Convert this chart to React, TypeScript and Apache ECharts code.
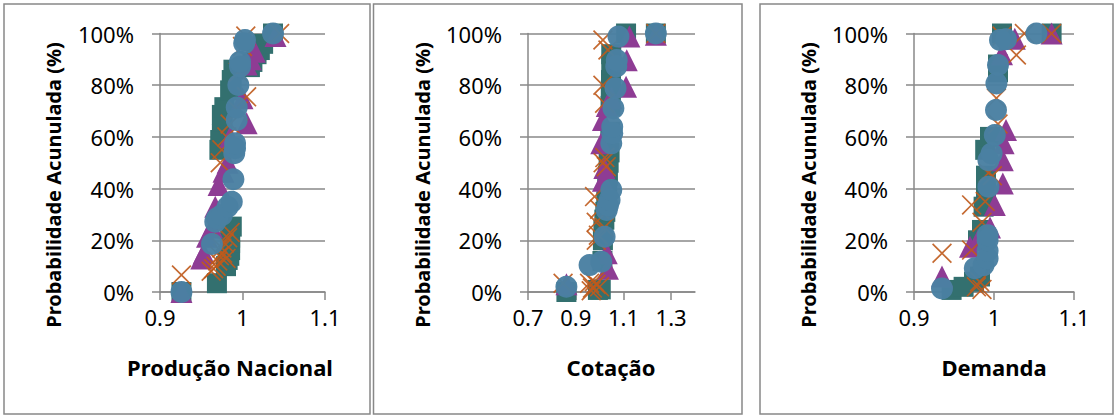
import React, { useEffect, useRef } from "react";
import * as echarts from "echarts";

// ---- Data (x = ratio, y = cumulative probability %) ----
const prodSquares: number[][] = [[0.926,0],[0.969,3.4],[0.980,10],[0.982,12.4],[0.984,14],[0.985,16.2],[0.985,19],[0.985,21],[0.987,25.3],[0.972,55],[0.973,58.8],[0.975,61],[0.975,68.5],[0.976,66],[0.978,71.5],[0.985,78],[0.987,82],[0.989,86],[1.009,87],[1.012,89],[1.017,92],[1.021,93.6],[1.025,96],[1.037,100]];
const prodTriangles: number[][] = [[0.926,0],[0.950,13],[0.953,15],[0.957,21.4],[0.963,25],[0.967,33],[0.971,41.4],[0.977,46.5],[0.982,50],[0.985,60],[1.005,65.3],[1.000,75],[1.005,88],[1.010,90],[1.015,92.9],[1.040,99]];
const prodCrosses: number[][] = [[0.926,6.6],[0.926,-0.5],[0.962,8],[0.965,9],[0.968,10],[0.970,12],[0.972,14],[0.975,17],[0.976,15],[0.978,19],[0.980,13],[0.982,21],[0.985,23],[0.973,50],[0.975,55],[0.981,60],[0.985,65],[0.995,70],[1.005,75.5],[0.995,85],[1.000,95],[1.004,99],[1.045,100]];
const prodCircles: number[][] = [[0.926,0],[0.963,18.6],[0.967,27.2],[0.969,28.5],[0.975,29.8],[0.982,33],[0.987,34.9],[0.989,43.6],[0.990,53.7],[0.991,55.6],[0.991,57.5],[0.993,66.5],[0.993,71.4],[0.995,80.1],[0.997,87.2],[0.997,89.1],[1.002,96.2],[1.003,97.5],[1.037,100]];

const cotSquares: number[][] = [[0.861,0],[0.993,0.8],[1.005,1],[1.012,12],[1.014,20],[1.016,24],[1.020,28],[1.024,31],[1.028,35],[1.032,40],[1.035,45],[1.038,50],[1.042,54],[1.045,62],[1.046,72],[1.047,78],[1.048,82],[1.049,88],[1.049,92],[1.111,100],[1.236,100]];
const cotTriangles: number[][] = [[0.861,3],[1.035,9],[1.030,15],[1.014,43],[1.020,48],[1.007,57.5],[1.014,66.5],[1.030,72],[1.050,75],[1.111,79.4],[1.114,89.7],[1.125,98.8],[1.236,99.5]];
const cotCrosses: number[][] = [[0.847,3.4],[0.958,3.4],[0.965,0.5],[0.970,1.5],[0.978,4],[0.985,3],[1.000,2],[0.986,20],[0.995,22],[0.986,27],[0.979,36.9],[1.000,32],[1.020,25],[1.028,48.5],[1.015,50],[1.022,52],[1.021,73],[1.014,80],[1.035,93.6],[1.014,97.5],[1.236,100]];
const cotCircles: number[][] = [[0.861,2],[0.958,10.4],[1.007,11.7],[1.021,21.4],[1.030,31.7],[1.035,33.5],[1.042,35.6],[1.049,39.5],[1.049,57.5],[1.053,61.4],[1.053,63.9],[1.058,71.1],[1.067,78.8],[1.070,87.2],[1.072,89.7],[1.079,98.8],[1.236,100]];

const demSquares: number[][] = [[0.947,0.8],[0.962,2],[0.975,4],[0.9825,6],[0.980,20],[0.985,24],[0.987,33],[0.990,40],[0.990,45],[0.989,55],[0.995,60],[1.005,85],[1.005,88],[1.010,100],[1.072,100]];
const demTriangles: number[][] = [[0.935,6],[0.970,17.5],[0.980,20],[0.995,25],[1.001,33.7],[1.011,42],[1.011,51],[1.012,57.5],[1.015,62.7],[1.010,92],[1.026,98],[1.072,100]];
const demCrosses: number[][] = [[0.935,15],[0.972,16.2],[0.978,2],[0.982,4],[0.985,1],[0.972,33.7],[0.989,35],[0.993,46],[0.998,45],[0.985,27],[1.005,65],[1.003,75],[1.028,91.7],[1.010,99],[1.038,100],[1.072,100]];
const demCircles: number[][] = [[0.935,1.4],[0.976,9.2],[0.987,10.4],[0.992,13],[0.992,16],[0.992,20],[0.992,22],[0.993,40.7],[0.993,51],[0.997,53.6],[1.001,60.7],[1.0025,70.4],[1.003,80.7],[1.005,87.8],[1.0075,97.5],[1.015,97.8],[1.053,100]];

const yTicks = [0, 20, 40, 60, 80, 100];
const xTitles = ["Produção Nacional", "Cotação", "Demanda"];
const yTitle = "Probabilidade Acunulada (%)";
const xTickSets = [[0.9, 1.0, 1.1], [0.7, 0.9, 1.1, 1.3], [0.9, 1.0, 1.1]];
const xRanges = [[0.9, 1.1], [0.7, 1.4], [0.9, 1.1]];

const FONT = "'Noto Sans', 'Open Sans', sans-serif";
const GRAY = "#888888";
const X_PATH = "path://M0,6L6,0L50,44L94,0L100,6L56,50L100,94L94,100L50,56L6,100L0,94L44,50Z";

export default function App() {
  const ref = useRef<HTMLDivElement>(null);
  useEffect(() => {
    document.body.style.margin = "0";
    const chart = echarts.init(ref.current!, undefined, { renderer: "svg" });

    const grids = [
      { left: 160, top: 33.5, width: 165, height: 258.5 },
      { left: 528, top: 33.5, width: 167, height: 258.5 },
      { left: 914, top: 33.5, width: 160, height: 258.5 },
    ];
    const panelData = [
      [prodSquares, prodTriangles, prodCrosses, prodCircles],
      [cotSquares, cotTriangles, cotCrosses, cotCircles],
      [demSquares, demTriangles, demCrosses, demCircles],
    ];
    const styles = [
      { symbol: "rect", symbolSize: 20, itemStyle: { color: "#33706F", opacity: 1 } },
      { symbol: "triangle", symbolSize: 22, itemStyle: { color: "#8E3C94", opacity: 1 } },
      { symbol: X_PATH, symbolSize: 20, itemStyle: { color: "#BF5A1C", opacity: 0.9 } },
      { symbol: "circle", symbolSize: 22, itemStyle: { color: "#4A80A2", opacity: 0.97 } },
    ];

    const xAxes = grids.map((_, i) => ({
      type: "value",
      gridIndex: i,
      min: xRanges[i][0],
      max: xRanges[i][1],
      axisLine: { show: true, onZero: false, lineStyle: { color: GRAY, width: 1.5 } },
      axisTick: { show: true, length: 8, lineStyle: { color: GRAY, width: 1.5 }, customValues: xTickSets[i] },
      axisLabel: { customValues: xTickSets[i], fontSize: 22, fontFamily: FONT, color: "#000", margin: 14 },
      splitLine: { show: false },
    }));
    const yAxes = grids.map((_, i) => ({
      type: "value",
      gridIndex: i,
      min: 0,
      max: 100,
      axisLine: { show: true, lineStyle: { color: GRAY, width: 1.5 } },
      axisTick: { show: true, length: 8, lineStyle: { color: GRAY, width: 1.5 }, customValues: yTicks },
      axisLabel: { customValues: yTicks, formatter: (v: number) => `${Math.round(v)}%`, fontSize: 22, fontFamily: FONT, color: "#000", margin: 26 },
      splitLine: { show: true, lineStyle: { color: GRAY, width: 1.5 } },
    }));

    const series: any[] = [];
    panelData.forEach((sets, i) => {
      sets.forEach((d, k) => {
        series.push({
          type: "scatter",
          xAxisIndex: i,
          yAxisIndex: i,
          data: d,
          ...styles[k],
          z: 2 + k,
        });
      });
    });

    const borders = [
      [4, 4, 366, 410],
      [373.5, 4, 368.5, 410],
      [760, 4, 353, 410],
    ];
    const xTitlePos = [[230, 367], [611, 367], [994, 367]];
    const yTitlePos = [[53, 185], [422, 185], [808, 185]];
    const graphic: any[] = [];
    borders.forEach((b) => {
      graphic.push({
        type: "rect",
        shape: { x: b[0], y: b[1], width: b[2], height: b[3] },
        style: { fill: "none", stroke: GRAY, lineWidth: 1.5 },
        z: -1,
      });
    });
    xTitles.forEach((t, i) => {
      graphic.push({
        type: "text",
        x: xTitlePos[i][0],
        y: xTitlePos[i][1],
        style: { text: t, align: "center", verticalAlign: "middle", font: `bold 22px ${FONT}`, fill: "#000" },
      });
      graphic.push({
        type: "text",
        x: yTitlePos[i][0],
        y: yTitlePos[i][1],
        rotation: Math.PI / 2,
        style: { text: yTitle, align: "center", verticalAlign: "middle", font: `bold 20px ${FONT}`, fill: "#000" },
      });
    });

    chart.setOption({
      animation: false,
      backgroundColor: "#fff",
      grid: grids,
      xAxis: xAxes,
      yAxis: yAxes,
      series,
      graphic,
    });
    return () => chart.dispose();
  }, []);
  return <div ref={ref} style={{ width: 1115, height: 417 }} />;
}
